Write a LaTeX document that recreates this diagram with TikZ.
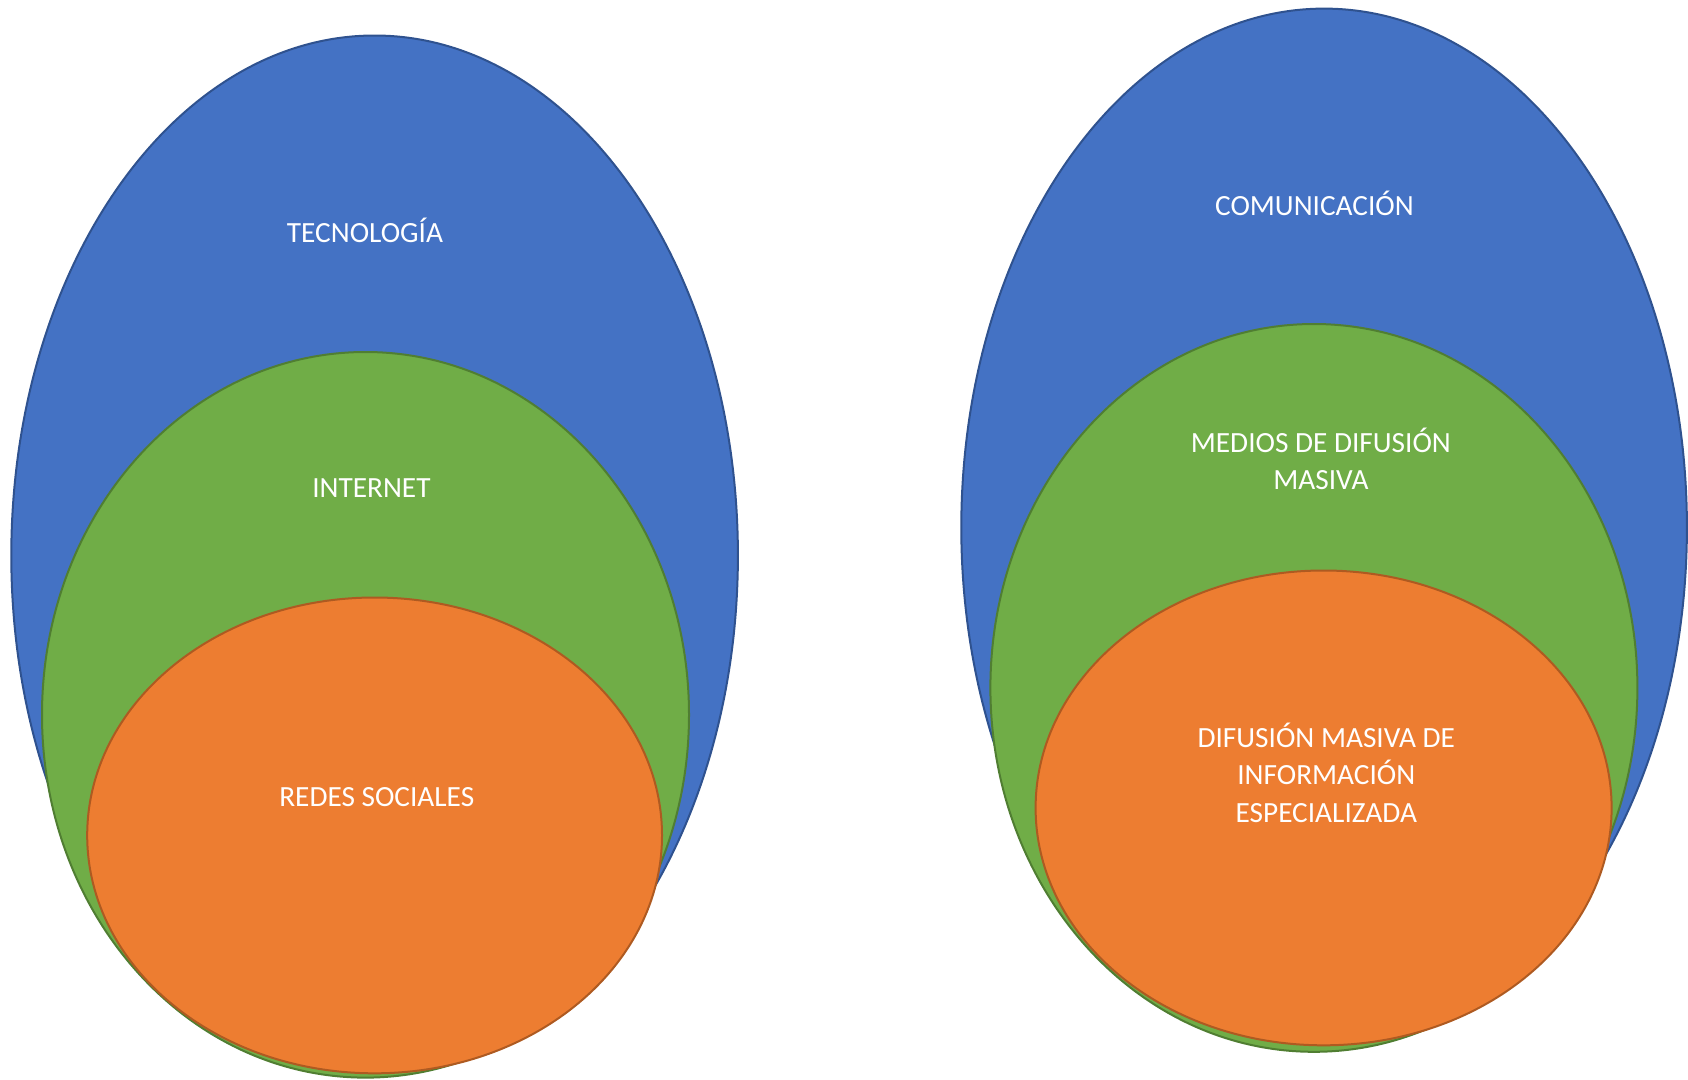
\documentclass[tikz,border=0pt]{standalone}
\usepackage{fontspec}
\setmainfont{Carlito}
\definecolor{bfill}{HTML}{4472C4}
\definecolor{bline}{HTML}{2F528F}
\definecolor{gfill}{HTML}{70AD47}
\definecolor{gline}{HTML}{507E32}
\definecolor{ofill}{HTML}{ED7D31}
\definecolor{oline}{HTML}{AE5A21}
\begin{document}
\begin{tikzpicture}[x=1pt,y=-1pt,
  blueset/.style={fill=bfill,draw=bline,line width=2pt},
  greenset/.style={fill=gfill,draw=gline,line width=2pt},
  orangeset/.style={fill=ofill,draw=oline,line width=2pt},
  lbl/.style={text=white,align=center,font=\fontsize{29.3}{37}\selectfont,inner sep=0pt}]
\useasboundingbox (0,0) rectangle (1688,1079);
% left group
\path[blueset] (374.6,555.5) ellipse [x radius=363.3pt,y radius=520pt];
\path[greenset] (365.5,714.8) ellipse [x radius=323.5pt,y radius=362.8pt];
\path[orangeset] (374.6,835.4) ellipse [x radius=287.4pt,y radius=237.9pt];
\node[lbl] (tec) at (365,230) {TECNOLOGÍA};
\node[lbl] (int) at (371.4,488) {INTERNET};
\node[lbl] (red) at (376.8,797) {REDES SOCIALES};
% right group
\path[blueset] (1324.1,527.5) ellipse [x radius=362.8pt,y radius=518.9pt];
\path[greenset] (1313.9,687.9) ellipse [x radius=323.5pt,y radius=363.9pt];
\path[orangeset] (1323.6,807.9) ellipse [x radius=288pt,y radius=237.4pt];
\node[lbl] (com) at (1314.4,203) {COMUNICACIÓN};
\node[lbl] (med) at (1320.9,458.5) {MEDIOS DE DIFUSIÓN\\MASIVA};
\node[lbl] (dif) at (1326.3,772.5) {DIFUSIÓN MASIVA DE\\INFORMACIÓN\\[1pt]ESPECIALIZADA};
\end{tikzpicture}
\end{document}
